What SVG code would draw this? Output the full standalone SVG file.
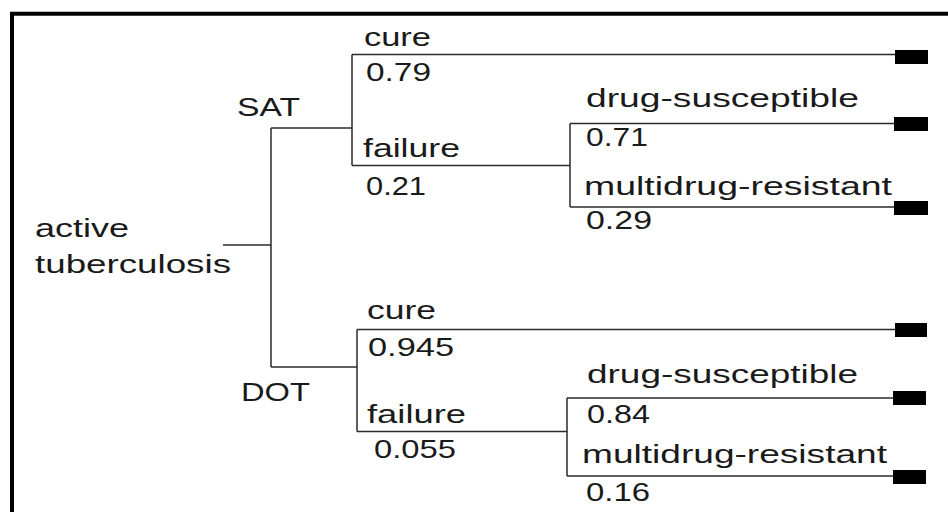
<svg xmlns="http://www.w3.org/2000/svg" width="948" height="512" viewBox="0 0 948 512">
<defs>
<style>
.lbl{font-family:"Liberation Sans",Arial,Helvetica,sans-serif;font-size:25px;fill:#1a1a1a;}
.big{font-size:26px;}
.edge{fill:none;stroke:#2a2a2a;stroke-width:1.5;}
.term{fill:#000;}
.frame{fill:none;stroke:#000;stroke-width:4;}
</style>
</defs>
<rect x="0" y="0" width="948" height="512" fill="#fff"/>
<path class="frame" d="M12 512 V13.8 H948"/>
<g id="connectors">
<path class="edge" d="M223 245 H271"/>
<path class="edge" d="M271 128 V367"/>
<path class="edge" d="M271 128 H352"/>
<path class="edge" d="M352 54.5 V165.5"/>
<path class="edge" d="M352 54.5 H895"/>
<path class="edge" d="M352 165.5 H570"/>
<path class="edge" d="M570 123.5 V207"/>
<path class="edge" d="M570 123.5 H895"/>
<path class="edge" d="M570 207 H895"/>
<path class="edge" d="M271 367 H357"/>
<path class="edge" d="M357 329.5 V431.5"/>
<path class="edge" d="M357 329.5 H895"/>
<path class="edge" d="M357 431.5 H567"/>
<path class="edge" d="M567 398 V476"/>
<path class="edge" d="M567 398 H895"/>
<path class="edge" d="M567 476 H895"/>
</g>
<g id="root">
<text class="lbl big" x="35" y="237" textLength="94" lengthAdjust="spacingAndGlyphs">active</text>
<text class="lbl big" x="35" y="273" textLength="196" lengthAdjust="spacingAndGlyphs">tuberculosis</text>
</g>
<g id="sat">
<text class="lbl big" x="237" y="116" textLength="63" lengthAdjust="spacingAndGlyphs">SAT</text>
<text class="lbl" x="364" y="46" textLength="67" lengthAdjust="spacingAndGlyphs">cure</text>
<text class="lbl" x="366" y="81" textLength="65" lengthAdjust="spacingAndGlyphs">0.79</text>
<text class="lbl" x="363" y="157" textLength="97" lengthAdjust="spacingAndGlyphs">failure</text>
<text class="lbl" x="366" y="195" textLength="60" lengthAdjust="spacingAndGlyphs">0.21</text>
</g>
<g id="sat-failure">
<text class="lbl" x="586" y="107" textLength="273" lengthAdjust="spacingAndGlyphs">drug-susceptible</text>
<text class="lbl" x="586" y="146" textLength="62" lengthAdjust="spacingAndGlyphs">0.71</text>
<text class="lbl" x="584" y="195" textLength="308" lengthAdjust="spacingAndGlyphs">multidrug-resistant</text>
<text class="lbl" x="586" y="229" textLength="66" lengthAdjust="spacingAndGlyphs">0.29</text>
</g>
<g id="dot">
<text class="lbl big" x="241" y="401" textLength="69" lengthAdjust="spacingAndGlyphs">DOT</text>
<text class="lbl" x="367" y="319" textLength="69" lengthAdjust="spacingAndGlyphs">cure</text>
<text class="lbl" x="368" y="356" textLength="86" lengthAdjust="spacingAndGlyphs">0.945</text>
<text class="lbl" x="367" y="423" textLength="99" lengthAdjust="spacingAndGlyphs">failure</text>
<text class="lbl" x="374" y="458" textLength="82" lengthAdjust="spacingAndGlyphs">0.055</text>
</g>
<g id="dot-failure">
<text class="lbl" x="587" y="383" textLength="271" lengthAdjust="spacingAndGlyphs">drug-susceptible</text>
<text class="lbl" x="587" y="423" textLength="63" lengthAdjust="spacingAndGlyphs">0.84</text>
<text class="lbl" x="582" y="463" textLength="305" lengthAdjust="spacingAndGlyphs">multidrug-resistant</text>
<text class="lbl" x="586" y="501" textLength="64" lengthAdjust="spacingAndGlyphs">0.16</text>
</g>
<g id="term-sat-cure"><rect class="term" x="895" y="50" width="33" height="14"/></g>
<g id="term-sat-ds"><rect class="term" x="894" y="117" width="34" height="14"/></g>
<g id="term-sat-mdr"><rect class="term" x="894" y="201" width="34" height="14"/></g>
<g id="term-dot-cure"><rect class="term" x="895" y="323" width="32" height="14"/></g>
<g id="term-dot-ds"><rect class="term" x="893" y="391" width="33" height="14"/></g>
<g id="term-dot-mdr"><rect class="term" x="893" y="470" width="33" height="14"/></g>
</svg>
